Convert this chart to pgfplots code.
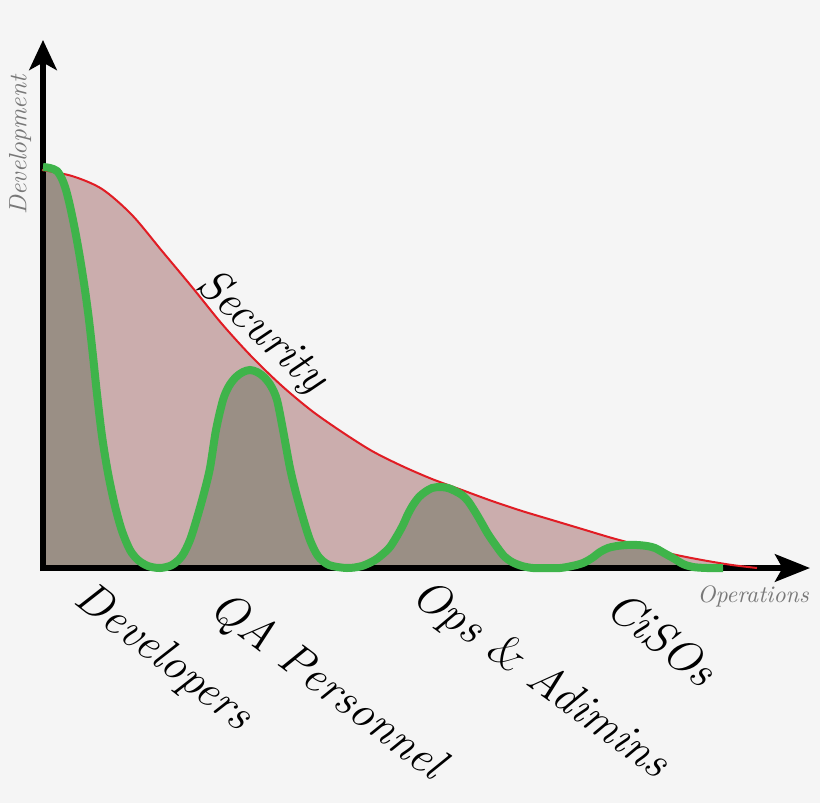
\documentclass[border=0pt]{standalone}
\usepackage{pgfplots}
\pgfplotsset{compat=1.18}
\usetikzlibrary{arrows.meta}

\definecolor{bg}{RGB}{245,245,245}
\definecolor{pinkfill}{RGB}{203,173,173}
\definecolor{brownfill}{RGB}{154,143,133}
\definecolor{greenline}{RGB}{62,180,74}
\definecolor{redline}{RGB}{225,28,36}
\definecolor{labelgray}{RGB}{120,120,120}

% security envelope
\pgfplotstableread{
x y
0 398
30 392
60 379
90 353
120 317
150 281
180 244
210 211
240 182
270 157
300 136
330 117
360 102
390 89
420 78
450 67
480 57
510 48
540 39
570 30
600 22
630 14
660 8
690 3
715 0
}\security

% oscillating role curve
\pgfplotstableread{
x y
1 401
8 400
15 397
20 389
24 378
28 362
33 338
38 310
43 278
47 248
51 212
55 174
60 132
66 95
73 62
80 37
88 18
96 8
106 2
118 0
130 3
140 12
148 28
155 50
162 75
168 100
174 138
181 168
187 182
194 191
201 196
208 198
215 196
222 191
229 182
235 168
241 138
248 100
254 75
261 50
268 28
276 12
287 3
305 0
320 2
333 8
342 15
348 21
355 32
361 43
366 54
371 63
377 71
383 76
390 80
398 81
406 80
413 77
420 73
426 67
432 58
438 48
446 34
455 21
462 12
470 6
480 2
491 0
505 0
518 0
530 2
541 5
550 10
558 16
566 20
575 22
585 23
595 23
605 22
613 20
622 15
631 10
641 4
651 1
665 0
681 0
}\roles

\newcommand{\lab}{\itshape\fontsize{18.5}{21}\selectfont}

\begin{document}
\begin{tikzpicture}
\begin{axis}[
  hide axis, scale only axis, clip=false,
  x=0.4pt, y=0.4pt,
  xmin=-42, xmax=778, ymin=-235, ymax=568,
]
\fill[bg] (rel axis cs:0,0) rectangle (rel axis cs:1,1);

\addplot[draw=none, fill=pinkfill, smooth] table {\security} \closedcycle;
\addplot[draw=none, fill=brownfill, smooth] table {\roles} \closedcycle;

% axes
\addplot[black, line width=2.2pt, -{Stealth[length=12pt, width=11pt, inset=3pt]}]
  coordinates {(1,-3) (1,528)};
\addplot[black, line width=2.2pt, -{Stealth[length=14pt, width=11pt, inset=3pt]}]
  coordinates {(-1,0) (768,0)};

\addplot[redline, line width=0.8pt, smooth] table {\security};
\addplot[greenline, line width=3.2pt, smooth] table {\roles};

\node[rotate=-42, font=\lab] at (axis cs:219,236) {Security};
\node[rotate=-38, font=\lab] at (axis cs:121,-90) {Developers};
\node[rotate=-37, font=\lab] at (axis cs:285,-119) {QA Personnel};
\node[rotate=-36, font=\lab] at (axis cs:498,-112) {Ops {\slshape\&} Adimins};
\node[rotate=-38, font=\lab] at (axis cs:620,-70) {CiSOs};

\node[rotate=90, text=labelgray, font=\itshape\fontsize{10}{12}\selectfont]
  at (axis cs:-22,423) {Development};
\node[text=labelgray, font=\itshape\fontsize{9.5}{11}\selectfont]
  at (axis cs:711,-28) {Operations};
\end{axis}
\end{tikzpicture}
\end{document}
